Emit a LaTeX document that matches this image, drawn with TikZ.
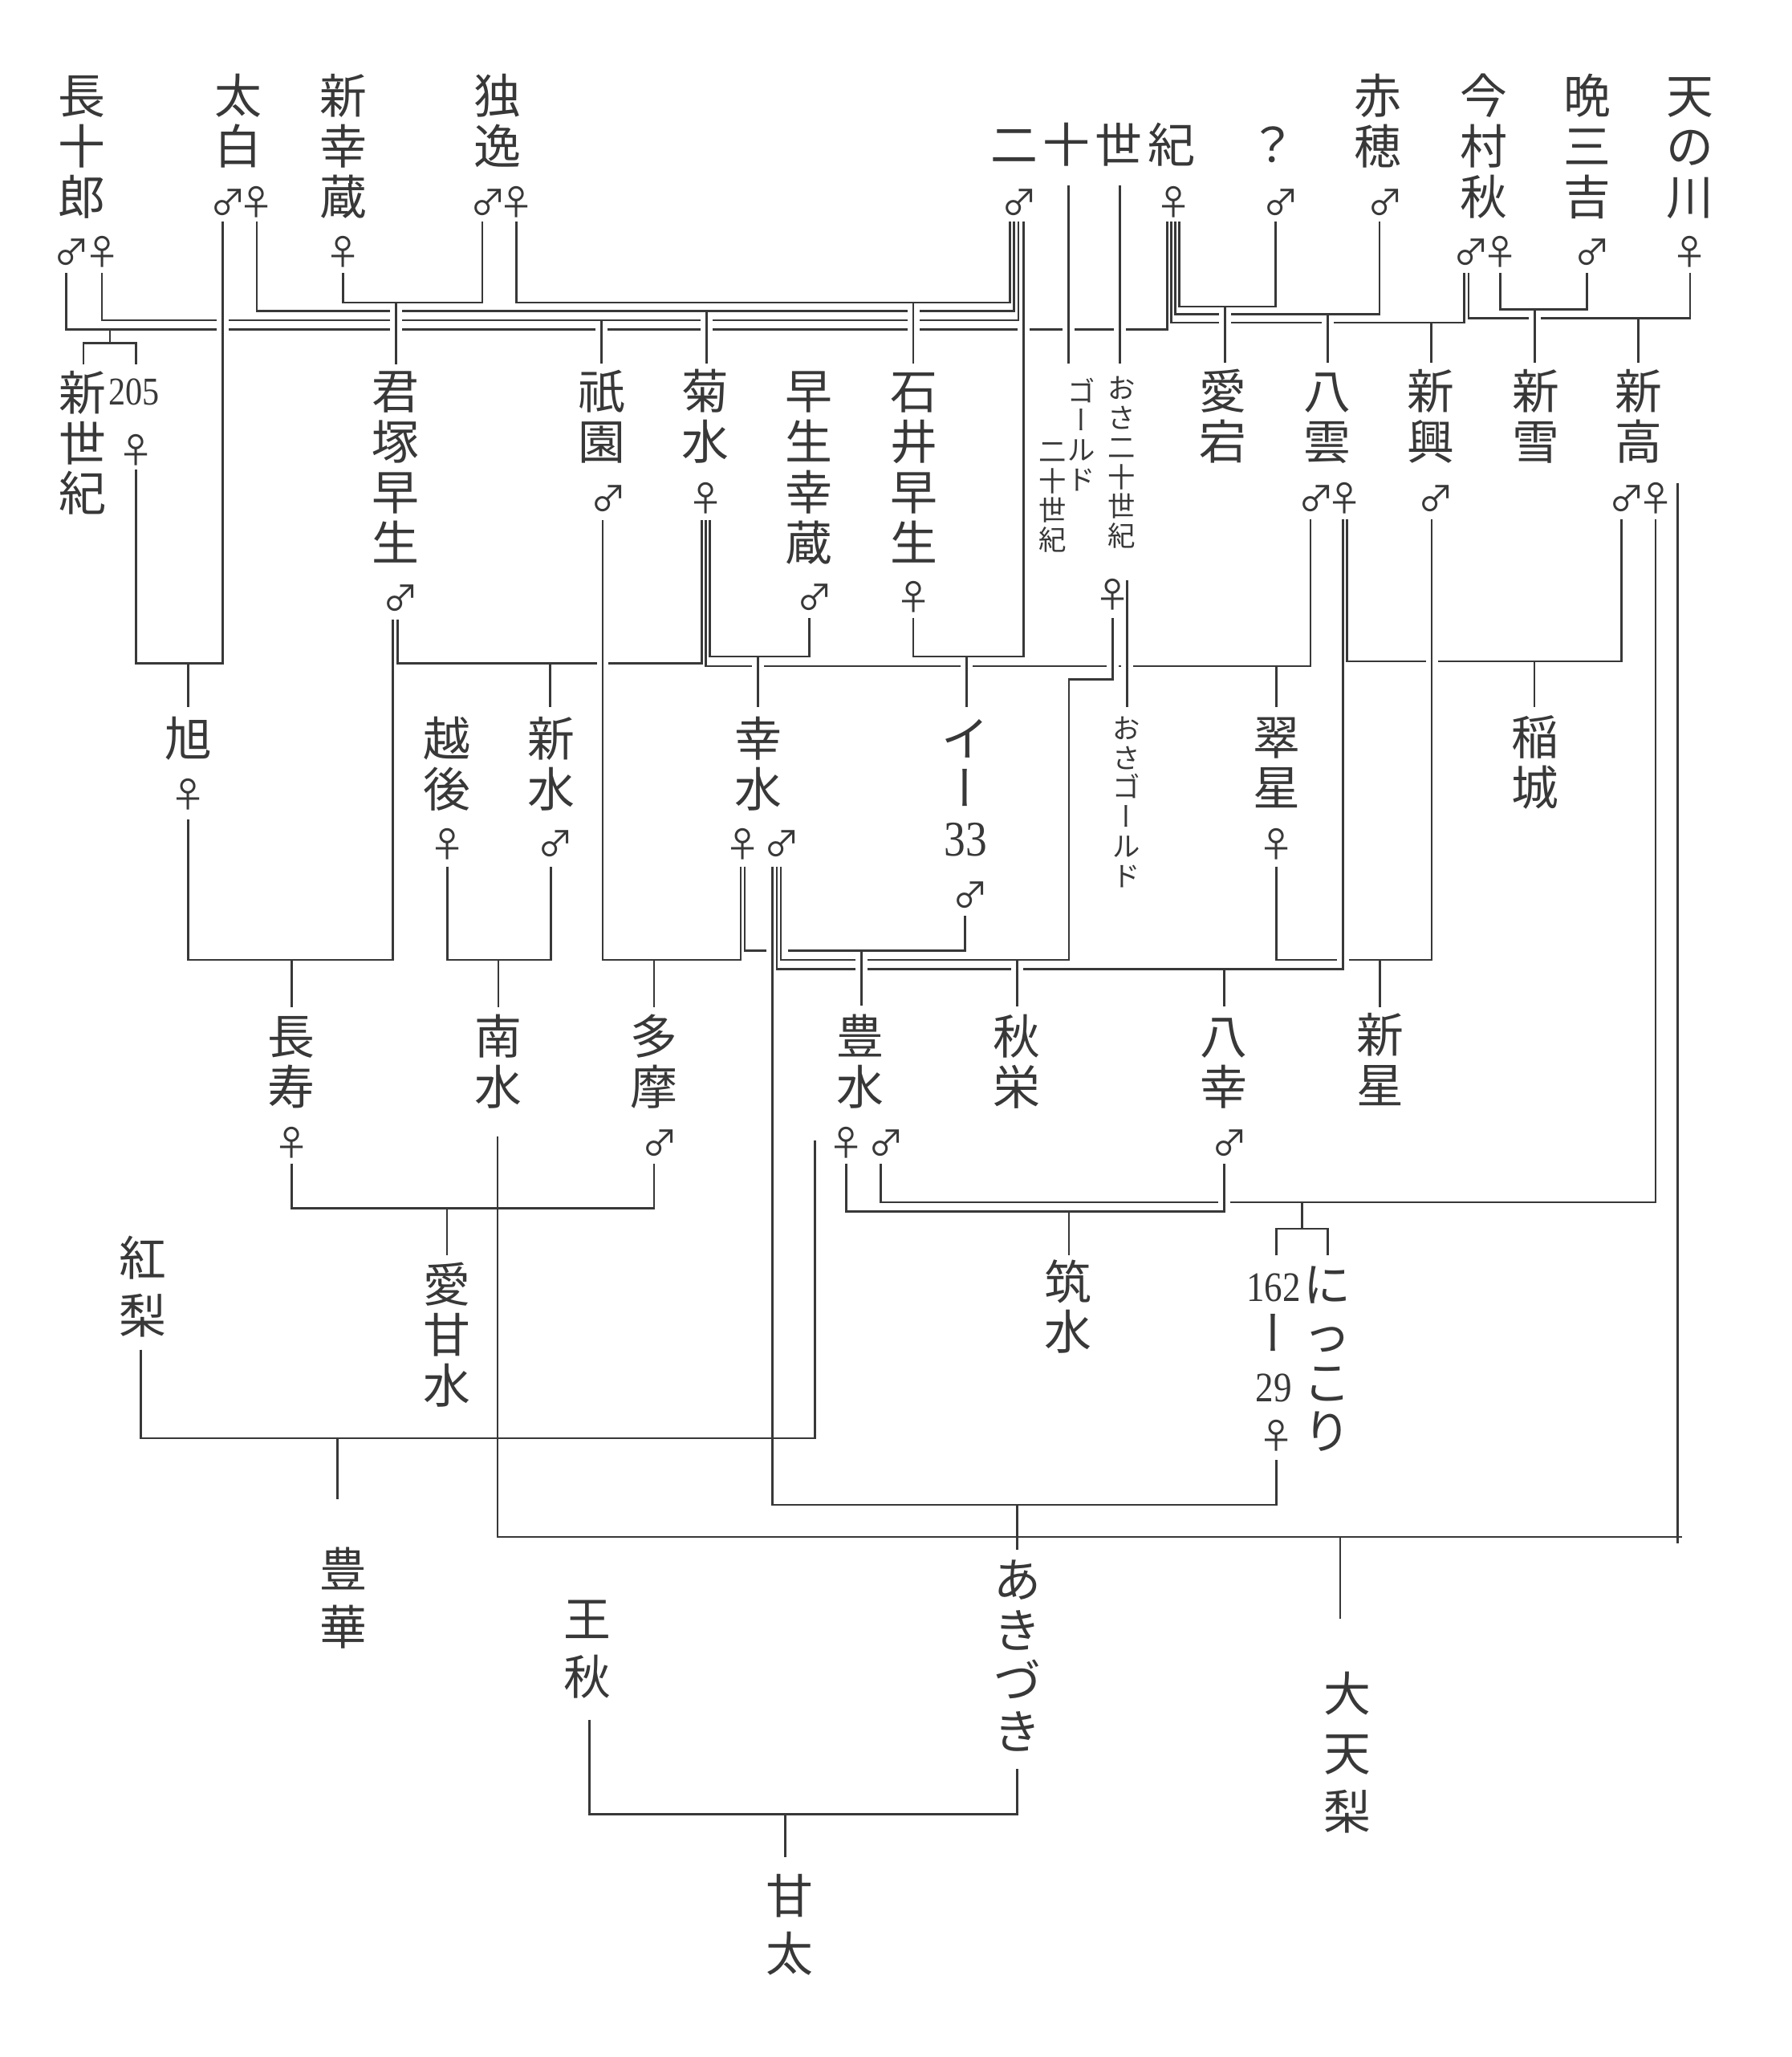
\documentclass[tikz,border=0pt]{standalone}
\usepackage{fontspec}
\usepackage{graphicx}
\newfontfamily\jp{Noto Sans CJK JP}
\newfontfamily\jpv[RawFeature=+vert]{Noto Sans CJK JP}
\newfontfamily\numf{Liberation Serif}
\definecolor{ink}{gray}{0.22}
\newlength\vsp
\newcommand\vl[1]{\hbox to 3em{\hss\vrule height\dimexpr .5\vsp+.38em\relax depth\dimexpr .5\vsp-.38em\relax width0pt\relax #1\hss}}
\def\Vsplit#1{\ifx\relax#1\else\vl{#1}\expandafter\Vsplit\fi}
\newcommand\V[1]{\vbox{\offinterlineskip\Vsplit#1\relax}}
\newcommand\VB{{\jpv ー}}
\newcommand\nm[2]{{\numf\fontsize{#1}{#1}\selectfont\scalebox{0.86}[1]{#2}}}
\newcommand\gap[2]{\fill[white] ({#1-4.5},{#2-1.7}) rectangle ({#1+4.5},{#2+1.7}); \draw[ln] (#1,{#2-2.6}) -- (#1,{#2+2.6});}
\tikzset{
  ln/.style={draw=ink, line width=0.8pt},
  lab/.style={inner sep=0pt, text=ink, font={\jp\fontsize{18}{18}\selectfont\setlength\vsp{#1}}},
  lab/.default=19.25pt,
  small/.style={inner sep=0pt, text=ink, font={\jp\fontsize{10.5}{10.5}\selectfont\setlength\vsp{11.25pt}}},
  sx/.style={inner sep=0pt, text=ink, font={\jp\fontsize{13.5}{13.5}\selectfont}},
  numlab/.style={inner sep=0pt, text=ink}
}
\begin{document}
\begin{tikzpicture}[x=0.5pt,y=-0.5pt]
\path[use as bounding box, fill=white] (0,0) rectangle (1366,1568);

% ---------- top generation connectors ----------
\draw[ln] (50.4,208) |- (890,251) -- (890,169);
\draw[ln] (77.8,208) |- (776.4,244) -- (776.4,169);
\draw[ln] (195.8,169) |- (772.9,237) -- (772.9,169);
\draw[ln] (169.6,169) |- (103.8,505.8) -- (103.8,358);
\draw[ln] (261.5,208) |- (367.7,230.6) -- (367.7,169);
\draw[ln] (393.7,169) |- (769.9,230.6) -- (769.9,169);
\draw[ln] (780.2,169) |- (696.3,500.4) -- (696.3,471);
\draw[ln] (972.5,169) |- (899,233.6) -- (899,169);
\draw[ln] (1051.7,169) |- (896,239.5) -- (896,169);
\draw[ln] (1116,208) |- (893,246) -- (893,169);
\draw[ln] (1119.5,208) |- (1288.3,242.5) -- (1288.3,208);
\draw[ln] (1143.6,208) |- (1209.7,236) -- (1209.7,208);

% drops to second row
\draw[ln] (83.9,251) -- (83.9,261.7);
\draw[ln] (63.7,278) |- (103.8,261.7) -- (103.8,278);
\draw[ln] (301.8,230.6) -- (301.8,277.5);
\draw[ln] (458.6,244) -- (458.6,277);
\draw[ln] (538.6,237) -- (538.6,277);
\draw[ln] (696.3,230.6) -- (696.3,277);
\draw[ln] (814.5,141.6) -- (814.5,277);
\draw[ln] (853.8,141.6) -- (853.8,277);
\draw[ln] (934,233.6) -- (934,276.6);
\draw[ln] (1012,239.5) -- (1012,276.6);
\draw[ln] (1091,246) -- (1091,276.6);
\draw[ln] (1170,236) -- (1170,276.6);
\draw[ln] (1249,242.5) -- (1249,276.6);

% ---------- second -> third row ----------
\draw[ln] (143.5,505.8) -- (143.5,539);
\draw[ln] (303,472) |- (535,505.8) -- (535,396.6);
\draw[ln] (419.5,505.8) -- (419.5,539);
\draw[ln] (541,396.6) |- (617,500.4) -- (617,471);
\draw[ln] (577.7,500.4) -- (577.7,539);
\draw[ln] (538,396.6) |- (999,507.8) -- (999,396);
\draw[ln] (737,500.4) -- (737,539);
\draw[ln] (973,507.8) -- (973,539);
\draw[ln] (848.4,471) |- (815,518) |- (595.3,731.7) -- (595.3,660.5);
\draw[ln] (859.4,442.6) -- (859.4,539);
\draw[ln] (1027,396) |- (1236,504) -- (1236,396);
\draw[ln] (1169.7,504) -- (1169.7,539);
\draw[ln] (592.1,660.5) |- (1023.8,738.6) -- (1023.8,396);
\draw[ln] (933.3,738.6) -- (933.3,767);
\draw[ln] (973,660.5) |- (1091.5,731.7) -- (1091.5,396);
\draw[ln] (1052,731.7) -- (1052,768);
\draw[ln] (1262.2,396) |- (671.4,916.5) -- (671.4,886.8);
\draw[ln] (1278.8,368.5) -- (1278.8,1176.5);

% ---------- third -> fourth row ----------
\draw[ln] (143.5,624.6) |- (299.6,731.7) -- (299.6,472);
\draw[ln] (222.2,731.7) -- (222.2,768);
\draw[ln] (341,660.5) |- (419.8,731.7) -- (419.8,660.5);
\draw[ln] (380,731.7) -- (380,768);
\draw[ln] (459.4,396.6) |- (564.7,731.7) -- (564.7,660.5);
\draw[ln] (498.5,731.7) -- (498.5,768);
\draw[ln] (567.8,660.5) |- (735.7,724.5) -- (735.7,698);
\draw[ln] (656.7,724.5) -- (656.7,766.7);
\draw[ln] (775.3,731.7) -- (775.3,767);
\draw[ln] (589,660.5) |- (973,1147) -- (973,1112.6);
\draw[ln] (775.5,1147) -- (775.5,1181.4);
\draw[ln] (645.2,886.8) |- (933.3,923.6) -- (933.3,886.8);
\draw[ln] (815,923.6) -- (815,957);
\draw[ln] (992.6,916.5) -- (992.6,936.7);
\draw[ln] (973,957) |- (1012,936.7) -- (1012,957);
\draw[ln] (222.2,886.8) |- (498.5,921.1) -- (498.5,886.8);
\draw[ln] (340.8,921.1) -- (340.8,957);
\draw[ln] (379.2,866.5) |- (1282,1171.6);
\draw[ln] (1021.6,1171.6) -- (1021.6,1233.9);
\draw[ln] (107.5,1028.8) |- (621.4,1096.2) -- (621.4,869.6);
\draw[ln] (257.2,1096.2) -- (257.2,1143);
\draw[ln] (449.4,1311) |- (775.5,1383) -- (775.5,1348.6);
\draw[ln] (598.5,1383) -- (598.5,1415.8);

% ---------- gaps where lines cross ----------
\gap{169.6}{244} \gap{169.6}{251}
\gap{301.8}{237} \gap{301.8}{244} \gap{301.8}{251}
\gap{458.6}{251}
\gap{538.6}{244} \gap{538.6}{251}
\gap{696.3}{237} \gap{696.3}{244} \gap{696.3}{251}
\gap{780.2}{251} \gap{814.5}{251} \gap{853.8}{251}
\gap{934}{239.5} \gap{934}{246} \gap{1012}{246}
\gap{1170}{242.5}
\gap{459.4}{505.8}
\gap{577.7}{507.8} \gap{737}{507.8} \gap{848.4}{507.8} \gap{859.4}{507.8}
\gap{1091.5}{504}
\gap{656.7}{731.7} \gap{656.7}{738.6} \gap{775.3}{738.6}
\gap{1023.8}{731.7}
\gap{933.3}{916.5}
\fill[white] (584,722.8) rectangle (600.5,726.2);
\draw[ln] (589,721) -- (589,728) (592.1,721) -- (592.1,728) (595.3,721) -- (595.3,728);

% ---------- labels ----------
\node[lab] (chojuro) at (62.5,111.5) {\V{長十郎}};
\node[lab] (taihaku) at (181.5,92.25) {\V{太白}};
\node[lab] (shinkozo) at (261.5,111.5) {\V{新幸蔵}};
\node[lab] (doitsu) at (379.5,92.25) {\V{独逸}};
\node[lab] (nijusseiki) at (833,110) {\V{{二\kern2pt十\kern2pt世\kern2pt紀}}};
\node[lab] (unknown) at (970,110) {\V{？}};
\node[lab] (ako) at (1050.5,92.25) {\V{赤穂}};
\node[lab] (imamura) at (1131.3,111.5) {\V{今村秋}};
\node[lab] (bansankichi) at (1210,111.5) {\V{晩三吉}};
\node[lab] (amanogawa) at (1288.6,111.5) {\V{天の川}};

\node[lab] (shinseiki) at (63,337.5) {\V{新世紀}};
\node[numlab] (n205) at (102.3,299) {\nm{15}{205}};
\node[lab] (kimizuka) at (301.5,355.75) {\V{君塚早生}};
\node[lab] (gion) at (459,317.25) {\V{祇園}};
\node[lab] (kikusui) at (537.5,317.25) {\V{菊水}};
\node[lab] (wasekozo) at (616.5,355.75) {\V{早生幸蔵}};
\node[lab] (ishiiwase) at (696.5,355.75) {\V{石井早生}};
\node[small] (gold1) at (824.7,331.75) {\V{ゴ\VB ルド}};
\node[small] (gold2) at (802.5,377.75) {\V{二十世紀}};
\node[small] (osa) at (855,352.25) {\V{おさ二十世紀}};
\node[lab] (atago) at (932.5,317.25) {\V{愛宕}};
\node[lab] (yakumo) at (1012,317.25) {\V{八雲}};
\node[lab] (shinko) at (1091,317.25) {\V{新興}};
\node[lab] (shinsetsu) at (1170.6,317.25) {\V{新雪}};
\node[lab] (niitaka) at (1249.3,317.25) {\V{新高}};

\node[lab] (asahi) at (143.5,563) {\V{旭}};
\node[lab] (echigo) at (341,582) {\V{越後}};
\node[lab] (shinsui) at (420,582) {\V{新水}};
\node[lab] (kosui) at (578,582) {\V{幸水}};
\node[lab=19pt] (i33) at (736,601) {\V{イ\VB{\nm{19}{33}}}};
\node[small] (osagold) at (858.5,611.25) {\V{おさゴ\VB ルド}};
\node[lab] (suisei) at (973,581) {\V{翠星}};
\node[lab] (inagi) at (1170,581) {\V{稲城}};

\node[lab] (chojyu) at (222,809) {\V{長寿}};
\node[lab] (nansui) at (380,809) {\V{南水}};
\node[lab] (tama) at (498.5,809) {\V{多摩}};
\node[lab] (hosui) at (656,809) {\V{豊水}};
\node[lab] (shuei) at (775,809) {\V{秋栄}};
\node[lab] (hakko) at (933,809) {\V{八幸}};
\node[lab] (shinsei) at (1052,808) {\V{新星}};

\node[lab=22pt] (beninashi) at (108.6,980.5) {\V{紅梨}};
\node[lab] (aikansui) at (340.5,1017.5) {\V{愛甘水}};
\node[lab=19pt] (chikusui) at (814.5,996) {\V{筑水}};
\node[lab=19pt] (n16229) at (971,1016.5) {\V{{\nm{16}{162}}\VB{\nm{16}{29}}}};
\node[lab=18.67pt] (nikkori) at (1012,1035) {\V{にっこり}};

\node[lab=22pt] (hoka) at (262,1218) {\V{豊華}};
\node[lab=22pt] (oshu) at (447.5,1256) {\V{王秋}};
\node[lab] (akizuki) at (775.5,1261.75) {\V{あきづき}};
\node[lab=22.5pt] (daitenri) at (1027,1336) {\V{大天梨}};
\node[lab=22pt] (kanta) at (601.8,1467) {\V{甘太}};

% ---------- sex marks ----------
\node[sx] (s1m) at (54.5,192) {♂};
\node[sx] (s1f) at (77.8,192) {♀};
\node[sx] (s2m) at (174,154) {♂};
\node[sx] (s2f) at (195.8,154) {♀};
\node[sx] (s3f) at (261.5,192) {♀};
\node[sx] (s4m) at (372,154) {♂};
\node[sx] (s4f) at (393.7,154) {♀};
\node[sx] (s5m) at (777,154) {♂};
\node[sx] (s5f) at (894.5,154) {♀};
\node[sx] (s6m) at (976.5,154) {♂};
\node[sx] (s7m) at (1056,154) {♂};
\node[sx] (s8m) at (1122,192) {♂};
\node[sx] (s8f) at (1143.6,192) {♀};
\node[sx] (s9m) at (1214,192) {♂};
\node[sx] (s10f) at (1288.3,192) {♀};
\node[sx] (s205f) at (103.8,343) {♀};
\node[sx] (skimm) at (305.5,456) {♂};
\node[sx] (sgionm) at (464,380) {♂};
\node[sx] (skikf) at (538,380) {♀};
\node[sx] (swasem) at (621.5,455) {♂};
\node[sx] (sishf) at (696.3,455) {♀};
\node[sx] (sosaf) at (848.4,453) {♀};
\node[sx] (syakm) at (1003.5,380) {♂};
\node[sx] (syakf) at (1025.3,380) {♀};
\node[sx] (sshinkom) at (1095,380) {♂};
\node[sx] (sniim) at (1240.5,380) {♂};
\node[sx] (sniif) at (1262.2,380) {♀};
\node[sx] (sasaf) at (143.5,605.7) {♀};
\node[sx] (sechf) at (341,643.4) {♀};
\node[sx] (sshinsm) at (424,643.4) {♂};
\node[sx] (skosf) at (566.2,643.4) {♀};
\node[sx] (skosm) at (596.5,643.4) {♂};
\node[sx] (si33m) at (740,682.4) {♂};
\node[sx] (ssuif) at (973,643.4) {♀};
\node[sx] (schof) at (222.2,871) {♀};
\node[sx] (stamm) at (503,871) {♂};
\node[sx] (shosf) at (645.2,871) {♀};
\node[sx] (shosm) at (675.5,871) {♂};
\node[sx] (shakm) at (937.5,871) {♂};
\node[sx] (s29f) at (973,1094.6) {♀};
\end{tikzpicture}
\end{document}
